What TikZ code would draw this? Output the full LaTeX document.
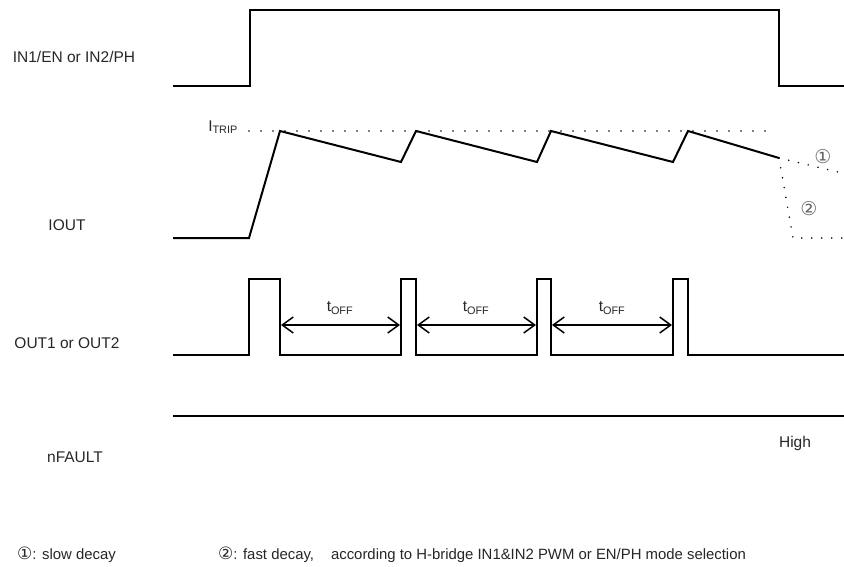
\documentclass[tikz,border=0pt]{standalone}
\usepackage{fontspec}
\setmainfont{Liberation Sans}
\newfontfamily\symfont{DejaVu Sans}
\usetikzlibrary{arrows.meta}
\begin{document}
\begin{tikzpicture}[x=1pt,y=-1pt,
  wave/.style={line width=2pt, line join=miter},
  dotline/.style={line width=1.7pt, dash pattern=on 0pt off 12pt, line cap=round},
  decayline/.style={line width=1.7pt, dash pattern=on 0pt off 10pt, line cap=round},
  dimarrow/.style={line width=1.5pt, {Straight Barb[length=11pt,width=16pt]}-{Straight Barb[length=11pt,width=16pt]}},
  lbl/.style={font=\fontsize{15.5}{18}\selectfont, inner sep=0pt, text=black!85},
  foot/.style={font=\fontsize{14.9}{18}\selectfont, inner sep=0pt, text=black!85},
  circ/.style={font=\symfont\fontsize{19}{20}\selectfont, inner sep=0pt, text=black!60}]
\useasboundingbox (0,0) rectangle (844,567);

% labels
\node[lbl] (lin) at (74,57) {IN1/EN or IN2/PH};
\node[lbl] (liout) at (67,225) {IOUT};
\node[lbl] (lout) at (67,343) {OUT1 or OUT2};
\node[lbl] (lnf) at (75,457) {nFAULT};
\node[lbl] (lhigh) at (795,443) {High};

% IN waveform
\draw[wave] (173,86) -- (250,86) -- (250,10) -- (779,10) -- (779,86) -- (845,86);

% IOUT waveform
\draw[dotline] (249,131) -- (772,131);
\node[lbl, anchor=east] (litrip) at (238,127) {I\textsubscript{TRIP}};
\draw[wave] (173,238) -- (249,238) -- (280,131) -- (401,162) -- (416,131) -- (537,162)
  -- (551,131) -- (673,162) -- (688,131) -- (779,158);
\coordinate (dstart) at (779,158);
\coordinate (d1end) at (838,172);
\coordinate (d2mid) at (793,238);
\coordinate (d2end) at (844,238);
\draw[decayline] (dstart) -- (d1end);
\draw[decayline] (dstart) -- (d2mid) -- (d2end);
\node[circ] (c1) at (823,157) {①};
\node[circ] (c2) at (809,209) {②};

% OUT waveform
\draw[wave] (173,355) -- (249,355) -- (249,279) -- (280,279) -- (280,355) -- (401,355)
  -- (401,279) -- (416,279) -- (416,355) -- (537,355) -- (537,279) -- (551,279)
  -- (551,355) -- (673,355) -- (673,279) -- (688,279) -- (688,355) -- (845,355);

\coordinate (a1) at (281,325); \coordinate (b1) at (400,325);
\coordinate (a2) at (417,325); \coordinate (b2) at (536,325);
\coordinate (a3) at (552,325); \coordinate (b3) at (672,325);
\draw[dimarrow] (a1) -- (b1);
\draw[dimarrow] (a2) -- (b2);
\draw[dimarrow] (a3) -- (b3);
\node[lbl] (t1) at (340,308) {t\textsubscript{OFF}};
\node[lbl] (t2) at (476,308) {t\textsubscript{OFF}};
\node[lbl] (t3) at (612,308) {t\textsubscript{OFF}};

% nFAULT
\draw[wave] (173,416) -- (845,416);

% footnotes
\node[foot, anchor=west] (f1) at (17,555) {{\symfont\fontsize{17}{18}\selectfont ①}: slow decay};
\node[foot, anchor=west] (f2) at (218,555) {{\symfont\fontsize{17}{18}\selectfont ②}: fast decay,\hspace{17pt}according to H-bridge IN1\&IN2 PWM or EN/PH mode selection};
\end{tikzpicture}
\end{document}
